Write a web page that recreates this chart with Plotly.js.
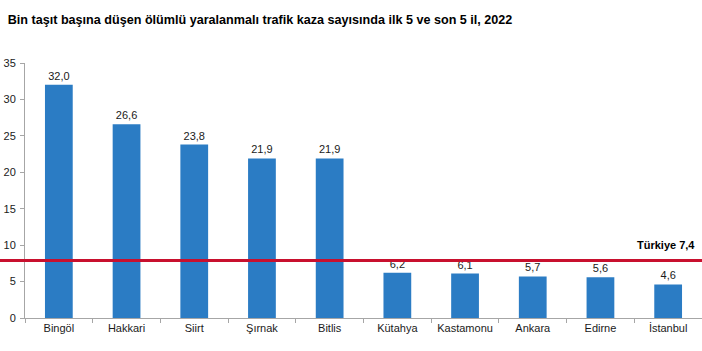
<!DOCTYPE html>
<html><head><meta charset="utf-8">
<script src="https://cdn.plot.ly/plotly-3.0.1.min.js"></script>
<style>html,body{margin:0;padding:0;background:#fff}#c{width:702px;height:351px}</style>
</head><body><div id="c"></div>
<script>
const provinces = ["Bingöl","Hakkari","Siirt","Şırnak","Bitlis","Kütahya","Kastamonu","Ankara","Edirne","İstanbul"];
const values = [32.0,26.6,23.8,21.9,21.9,6.2,6.1,5.7,5.6,4.6];
const turkiyeLineLevel = 7.9;   // where the reference line is drawn
const turkiyeLabel = "Türkiye 7,4";
const yTicks = [0,5,10,15,20,25,30,35];

const fmt = v => v.toFixed(1).replace('.', ',');
const font = "Liberation Sans, Arial, sans-serif";

const trace = {
  type: 'bar', x: provinces, y: values,
  text: values.map(fmt), textposition: 'outside', cliponaxis: false,
  textfont: {family: font, size: 11, color: '#1a1a1a'},
  marker: {color: '#2B7CC4'}, hoverinfo: 'none'
};

const layout = {
  width: 702, height: 351,
  margin: {l: 25, r: 0, t: 63, b: 33},
  paper_bgcolor: '#fff', plot_bgcolor: '#fff',
  bargap: 0.59,
  showlegend: false,
  title: {text: '<b>Bin taşıt başına düşen ölümlü yaralanmalı trafik kaza sayısında ilk 5 ve son 5 il, 2022</b>',
          x: 0.011, xanchor: 'left', y: 0.945, yanchor: 'middle',
          font: {family: font, size: 12.6, color: '#000'}},
  xaxis: {type: 'category', showline: true, linecolor: '#a6a6a6', linewidth: 1,
          ticks: 'outside', tickson: 'boundaries', ticklen: 4, tickcolor: '#a6a6a6',
          tickfont: {family: font, size: 11, color: '#1a1a1a'}, showgrid: false, zeroline: false,
          fixedrange: true},
  yaxis: {range: [0, 35], tickvals: yTicks, showline: true, linecolor: '#a6a6a6', linewidth: 1,
          ticks: 'outside', ticklen: 4, tickcolor: '#a6a6a6', showgrid: false, zeroline: false,
          tickfont: {family: font, size: 11, color: '#1a1a1a'}, ticklabelstandoff: 2},
  shapes: [{type: 'line', xref: 'paper', yref: 'y', x0: -0.04, x1: 1, y0: turkiyeLineLevel, y1: turkiyeLineLevel,
            line: {color: '#C8102E', width: 3}}],
  annotations: [{xref: 'paper', yref: 'y', x: 0.993, y: turkiyeLineLevel, xanchor: 'right', yanchor: 'bottom',
                 yshift: 7, text: '<b>' + turkiyeLabel + '</b>', showarrow: false,
                 font: {family: font, size: 11, color: '#000'}}]
};
Plotly.newPlot('c', [trace], layout, {staticPlot: true});
</script></body></html>
